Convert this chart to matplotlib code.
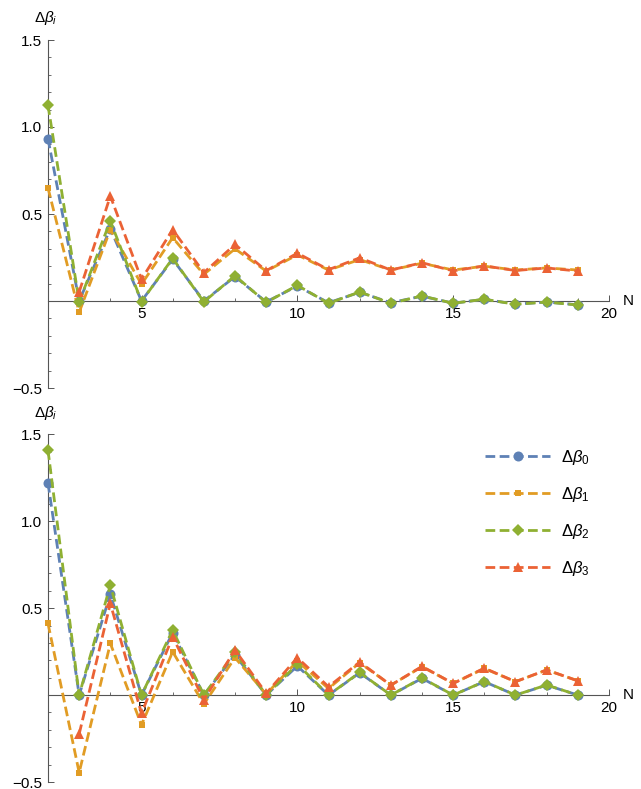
#!/usr/bin/env python3

import matplotlib
matplotlib.use("Agg")
import matplotlib.pyplot as plt
import numpy as np

# N values (Delta beta_3 starts one step later)
n_vals = np.arange(2, 20)
n_vals3 = np.arange(3, 20)

# upper panel
top_b0 = [0.933, 0.0, 0.416, 0.0, 0.24, 0.0, 0.14, -0.005, 0.086, -0.01,
          0.05, -0.01, 0.028, -0.013, 0.01, -0.018, -0.006, -0.022]
top_b1 = [0.65, -0.065, 0.41, 0.096, 0.364, 0.153, 0.30, 0.172, 0.265, 0.178,
          0.238, 0.178, 0.217, 0.178, 0.2, 0.178, 0.19, 0.178]
top_b2 = [1.125, -0.005, 0.46, -0.003, 0.245, -0.005, 0.145, -0.008, 0.09, -0.013,
          0.052, -0.013, 0.029, -0.013, 0.01, -0.019, -0.006, -0.023]
top_b3 = [0.052, 0.603, 0.125, 0.41, 0.163, 0.325, 0.174, 0.275, 0.18,
          0.248, 0.178, 0.22, 0.173, 0.202, 0.175, 0.19, 0.172]

# lower panel
bot_b0 = [1.22, 0.0, 0.58, 0.0, 0.358, 0.0, 0.23, 0.0, 0.167, 0.0,
          0.128, 0.0, 0.096, 0.0, 0.077, 0.0, 0.057, 0.0]
bot_b1 = [0.412, -0.446, 0.297, -0.172, 0.249, -0.052, 0.215, 0.005, 0.195, 0.038,
          0.186, 0.057, 0.163, 0.067, 0.153, 0.077, 0.144, 0.082]
bot_b2 = [1.408, 0.0, 0.632, 0.0, 0.374, 0.0, 0.245, 0.0, 0.178, 0.0,
          0.13, 0.0, 0.098, 0.0, 0.078, 0.0, 0.058, 0.0]
bot_b3 = [-0.224, 0.527, -0.105, 0.335, -0.027, 0.259, 0.01, 0.215, 0.048,
          0.19, 0.057, 0.165, 0.067, 0.155, 0.077, 0.145, 0.082]

labels = [r"$\Delta\beta_0$", r"$\Delta\beta_1$", r"$\Delta\beta_2$", r"$\Delta\beta_3$"]
colors = ["#5E81B5", "#E19C24", "#8FB032", "#EB6235"]
markers = ["o", "s", "D", "^"]
msizes = [7.2, 5, 6.3, 7.8]

x_ticks = [5, 10, 15, 20]
x_ticklabels = ["5", "10", "15", "20"]
y_ticks = [-0.5, 0.0, 0.5, 1.0, 1.5]
y_ticklabels = ["\u22120.5", "", "0.5", "1.0", "1.5"]

plt.rcParams["font.family"] = ["Liberation Sans", "DejaVu Sans"]
plt.rcParams["mathtext.fontset"] = "custom"
plt.rcParams["mathtext.rm"] = "Liberation Sans"
plt.rcParams["mathtext.it"] = "Liberation Sans:italic"

W, H = 641, 789
axis_col = "#555555"


def setup_axes(ax):
    ax.set_xlim(2, 20)
    ax.set_ylim(-0.5, 1.5)
    ax.spines["top"].set_visible(False)
    ax.spines["right"].set_visible(False)
    ax.spines["bottom"].set_position(("data", 0))
    for s in ["left", "bottom"]:
        ax.spines[s].set_color(axis_col)
        ax.spines[s].set_linewidth(0.8)
    ax.set_xticks(x_ticks)
    ax.set_xticklabels(x_ticklabels)
    ax.set_xticks(np.arange(3, 20), minor=True)
    ax.set_yticks(y_ticks)
    ax.set_yticklabels(y_ticklabels)
    ax.set_yticks(np.arange(-0.5, 1.51, 0.1), minor=True)
    ax.tick_params(which="major", direction="in", length=4.5, width=0.7,
                   color=axis_col, labelsize=11, pad=4)
    ax.tick_params(which="minor", direction="in", length=2.5, width=0.6,
                   color=axis_col)
    ax.annotate("N", xy=(20, 0), xytext=(10, 0), textcoords="offset points",
                ha="left", va="center", fontsize=11)
    ax.annotate(r"$\Delta\beta_i$", xy=(2, 1.5), xytext=(-1.5, 15.5),
                textcoords="offset points", ha="center", va="center", fontsize=11)


def draw(ax, series):
    for i, ys in enumerate(series):
        xs = n_vals3 if i == 3 else n_vals
        ax.plot(xs, ys, color=colors[i], linestyle=(0, (3.5, 1.6)), linewidth=2.0,
                marker=markers[i], markersize=msizes[i], markeredgewidth=0,
                label=labels[i], clip_on=False, zorder=3 + i)


def main():
    fig = plt.figure(figsize=(W / 100, H / 100), dpi=100)

    left = 48 / W
    width = (609 - 48) / W
    # pixel rows of y = 1.5 and y = -0.5 in each panel
    ax1 = fig.add_axes([left, 1 - 388.0 / H, width, (388.0 - 40.0) / H])
    ax2 = fig.add_axes([left, 1 - 782.0 / H, width, (782.0 - 434.3) / H])

    for ax in (ax1, ax2):
        setup_axes(ax)
    draw(ax1, [top_b0, top_b1, top_b2, top_b3])
    draw(ax2, [bot_b0, bot_b1, bot_b2, bot_b3])

    ax2.legend(loc="upper left", bbox_to_anchor=(485 / W, 1 - 448 / H),
               bbox_transform=fig.transFigure, frameon=False, numpoints=1,
               fontsize=12, handlelength=3.9, handletextpad=0.65,
               labelspacing=1.07, borderpad=0, borderaxespad=0)

    plt.savefig("out.png", dpi=100)


if __name__ == "__main__":
    main()
